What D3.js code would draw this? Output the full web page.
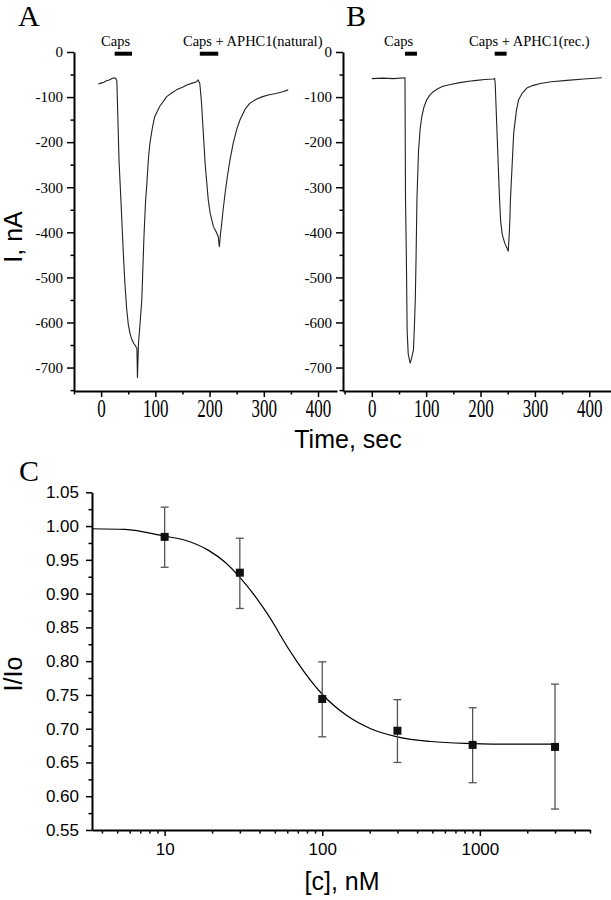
<!DOCTYPE html>
<html><head><meta charset="utf-8">
<script src="https://cdn.jsdelivr.net/npm/d3@7"></script>
<style>body{margin:0;background:#fff} svg{display:block}</style>
</head><body><svg id="c" width="611" height="900"></svg>
<script>
// ---- Panel A trace (time s, current nA)
const traceA = [[-5,-71],[0,-69],[5,-67],[10,-64],[15,-62],[20,-59],[24,-57],[27,-59],[29,-64],[31,-150],[33,-240],[36.5,-328],[39,-395],[41.5,-460],[44,-515],[47,-568],[50,-603],[53,-623],[56,-636],[60,-646],[64,-653],[66,-658],[67,-722],[69,-645],[72,-600],[75,-550],[79,-410],[82,-330],[84,-299],[87,-240],[90,-202],[95,-165],[99,-143],[108,-121],[121,-99],[130,-91],[139,-84],[150,-78],[158,-73],[168,-69],[176,-66],[179,-62],[180.5,-66],[182,-70],[185,-110],[187,-151],[192,-250],[197.6,-328],[201,-357],[207,-387],[213,-401],[216,-410],[218,-432],[220,-405],[222,-385],[225,-350],[229,-310],[233,-275],[237.6,-240],[243.6,-202],[250,-172],[256,-151],[265,-128],[274,-114],[286,-105],[298,-99],[310,-95],[323,-92],[335,-88],[345,-84]];
// ---- Panel B trace
const traceB = [[0,-59],[20,-58],[40,-59],[61,-57],[62,-328],[63.5,-450],[65,-620],[67,-670],[70.5,-690],[73,-680],[76.6,-661],[78,-620],[80,-550],[81.5,-450],[83,-328],[86,-217],[89,-170],[92,-143],[96,-122],[101,-106],[107,-95],[113,-88],[122,-81],[131,-76],[145,-72],[162,-68],[178,-65],[193,-63],[208,-61],[223,-60],[226,-59],[227,-70],[231,-200],[235,-328],[237,-375],[240,-405],[244.5,-424],[248,-433],[250,-439],[251,-442],[253,-400],[254,-372],[255,-328],[258,-254],[261,-180],[266,-130],[270,-106],[277,-91],[285,-80],[297,-74],[310,-70],[330,-66],[359,-63],[390,-60],[423,-57]];
const barsA = [[25,57],[182,216]];
const barsB = [[61,83],[226,248]];
const labelsA = ["Caps","Caps + APHC1(natural)"];
const labelStartA = [0,151];
const labelsB = ["Caps","Caps + APHC1(rec.)"];
const labelStartB = [22.5,179];
const currentTicks = [0,-100,-200,-300,-400,-500,-600,-700];
const currentMinor = [-50,-150,-250,-350,-450,-550,-650,-750];
const timeTicks = [0,100,200,300,400];
const timeMinor = [-50,50,150,250,350];
// ---- Panel C
const concentrations = [10,30,100,300,900,3000];
const ratioMean  = [0.984,0.931,0.744,0.697,0.676,0.673];
const ratioUpper = [1.028,0.982,0.799,0.743,0.731,0.766];
const ratioLower = [0.939,0.878,0.688,0.650,0.620,0.581];
const fitConc  = [3.46,5.6,10,13.5,19,24.3,30,39.5,50.5,54.3,69.3,100,144,203,299,489,897,1574,3000];
const fitRatio = [0.996,0.995,0.985,0.979,0.964,0.946,0.924,0.889,0.851,0.838,0.799,0.751,0.719,0.700,0.688,0.681,0.678,0.677,0.677];
const ratioTicks = [0.55,0.60,0.65,0.70,0.75,0.80,0.85,0.90,0.95,1.00,1.05];
const ratioMinor = [0.575,0.625,0.675,0.725,0.775,0.825,0.875,0.925,0.975,1.025];
const concTicks = [10,100,1000];
const concMinor = [4,5,6,7,8,9,20,30,40,50,60,70,80,90,200,300,400,500,600,700,800,900,2000,3000,4000,5000];

const SERIF = "'Liberation Serif','Times New Roman',serif";
const SANS = "'Liberation Sans',Arial,sans-serif";
const svg = d3.select("#c");

const yAB = d3.scaleLinear().domain([-752,0]).range([391,52]);
const xA = d3.scaleLinear().domain([-50,435]).range([74,337]);
const xB = d3.scaleLinear().domain([-53,440]).range([343,611]);

function styleAxis(g, font, size){
  g.select(".domain").attr("stroke","#000").attr("stroke-width",2);
  g.selectAll(".tick line").attr("stroke","#000").attr("stroke-width",1.5);
  g.selectAll(".tick text").attr("font-family",font).attr("font-size",size).attr("fill","#000");
}

function tracePanel(x, trace, bars, labels, starts, title, titleX){
  const yx = x.range()[0];
  const gm = svg.append("g").attr("transform",`translate(${yx},0)`)
    .call(d3.axisLeft(yAB).tickValues(currentMinor).tickSize(3.5).tickFormat(""));
  gm.select(".domain").remove(); styleAxis(gm, SERIF, 15);
  const gy = svg.append("g").attr("transform",`translate(${yx},0)`)
    .call(d3.axisLeft(yAB).tickValues(currentTicks).tickSize(7).tickPadding(4).tickSizeOuter(0).tickFormat(d=>String(d)));
  styleAxis(gy, SERIF, 15);
  const xy = yAB.range()[0];
  const gxm = svg.append("g").attr("transform",`translate(0,${xy})`)
    .call(d3.axisBottom(x).tickValues(timeMinor).tickSize(3.5).tickFormat(""));
  gxm.select(".domain").remove(); styleAxis(gxm, SERIF, 17);
  const gx = svg.append("g").attr("transform",`translate(0,${xy})`)
    .call(d3.axisBottom(x).tickValues(timeTicks).tickSize(6).tickSizeOuter(0).tickFormat(d=>String(d)));
  styleAxis(gx, SERIF, 17);
  gx.selectAll(".tick text").attr("y",5.4).attr("transform","scale(1,1.5)");
  svg.append("path").datum(trace)
    .attr("d", d3.line().x(d=>x(d[0])).y(d=>yAB(d[1])))
    .attr("fill","none").attr("stroke","#222").attr("stroke-width",1.1).attr("stroke-linejoin","round");
  svg.selectAll(null).data(bars).enter().append("line")
    .attr("x1",d=>x(d[0])).attr("x2",d=>x(d[1]))
    .attr("y1",yAB(0)+1.7).attr("y2",yAB(0)+1.7)
    .attr("stroke","#000").attr("stroke-width",4);
  svg.selectAll(null).data(labels).enter().append("text")
    .attr("x",(d,i)=>x(starts[i])).attr("y",46)
    .attr("font-family",SERIF).attr("font-size",14.5).text(d=>d);
  svg.append("text").attr("x",titleX).attr("y",26).attr("font-family",SERIF).attr("font-size",30).text(title);
}
tracePanel(xA, traceA, barsA, labelsA, labelStartA, "A", 18);
tracePanel(xB, traceB, barsB, labelsB, labelStartB, "B", 346);

svg.append("text").attr("transform","translate(21.5,237) rotate(-90)").attr("text-anchor","middle")
  .attr("font-family",SANS).attr("font-size",25).text("I, nA");
svg.append("text").attr("x",348).attr("y",448).attr("text-anchor","middle")
  .attr("font-family",SANS).attr("font-size",25).text("Time, sec");

// ---- Panel C
const xC = d3.scaleLog().domain([3.46,5000]).range([92,590]);
const yC = d3.scaleLinear().domain([0.55,1.05]).range([830,492.3]);
const gcm = svg.append("g").attr("transform","translate(92,0)")
  .call(d3.axisLeft(yC).tickValues(ratioMinor).tickSize(3.5).tickFormat(""));
gcm.select(".domain").remove(); styleAxis(gcm, SANS, 17);
const gcy = svg.append("g").attr("transform","translate(92,0)")
  .call(d3.axisLeft(yC).tickValues(ratioTicks).tickSize(6).tickPadding(7).tickSizeOuter(0).tickFormat(d3.format(".2f")));
styleAxis(gcy, SANS, 17);
const gcxm = svg.append("g").attr("transform","translate(0,830)")
  .call(d3.axisBottom(xC).tickValues(concMinor).tickSize(3.5).tickFormat(""));
gcxm.select(".domain").remove(); styleAxis(gcxm, SANS, 17);
const gcx = svg.append("g").attr("transform","translate(0,830)")
  .call(d3.axisBottom(xC).tickValues(concTicks).tickSize(6).tickPadding(7).tickSizeOuter(0).tickFormat(d=>String(d)));
styleAxis(gcx, SANS, 17);

svg.append("path").datum(fitConc.map((c,i)=>[c,fitRatio[i]]))
  .attr("d", d3.line().x(d=>xC(d[0])).y(d=>yC(d[1])).curve(d3.curveMonotoneX))
  .attr("fill","none").attr("stroke","#000").attr("stroke-width",1.2);

const eb = svg.append("g").attr("stroke","#555").attr("stroke-width",1.3);
concentrations.forEach((c,i)=>{
  const cx = xC(c);
  eb.append("line").attr("x1",cx).attr("x2",cx).attr("y1",yC(ratioUpper[i])).attr("y2",yC(ratioLower[i]));
  eb.append("line").attr("x1",cx-4).attr("x2",cx+4).attr("y1",yC(ratioUpper[i])).attr("y2",yC(ratioUpper[i]));
  eb.append("line").attr("x1",cx-4).attr("x2",cx+4).attr("y1",yC(ratioLower[i])).attr("y2",yC(ratioLower[i]));
});
svg.selectAll(null).data(concentrations).enter().append("rect")
  .attr("x",d=>xC(d)-4).attr("y",(d,i)=>yC(ratioMean[i])-4)
  .attr("width",8).attr("height",8).attr("fill","#111");

svg.append("text").attr("x",19).attr("y",481).attr("font-family",SERIF).attr("font-size",30).text("C");
svg.append("text").attr("transform","translate(22,674) rotate(-90)").attr("text-anchor","middle")
  .attr("font-family",SANS).attr("font-size",25).text("I/Io");
svg.append("text").attr("x",342).attr("y",890).attr("text-anchor","middle")
  .attr("font-family",SANS).attr("font-size",25).text("[c], nM");
</script></body></html>
